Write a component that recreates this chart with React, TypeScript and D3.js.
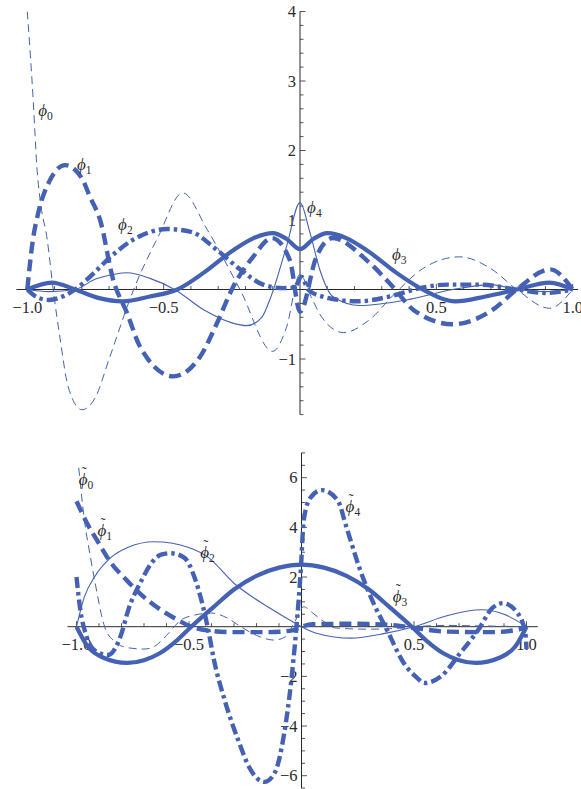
import * as d3 from "d3";

const WIDTH = 581;
const HEIGHT = 789;
const BLUE = "#4461b3";
const INK = "#2a2a2a";
const FONT = "Liberation Serif, Times New Roman, serif";

type Pt = [number, number];

// ---- top panel: phi_0 .. phi_4 ----
const topPhi0: Pt[] = [
  [-1, 4.0], [-0.978, 2.7], [-0.965, 1.77], [-0.953, 1.29], [-0.927, 0.72], [-0.905, 0],
  [-0.88, -0.7], [-0.85, -1.4], [-0.8, -1.73], [-0.75, -1.55], [-0.7, -1.0], [-0.61, 0],
  [-0.52, 0.76], [-0.43, 1.39], [-0.34, 0.86], [-0.22, 0], [-0.1, -0.89], [-0.05, -0.55],
  [0, 0.22], [0.04, -0.1], [0.08, -0.4], [0.16, -0.62], [0.25, -0.45], [0.35, -0.05],
  [0.45, 0.3], [0.585, 0.47], [0.7, 0.3], [0.795, 0], [0.915, -0.27], [1, 0],
];
const topPhi1: Pt[] = [
  [-1, 0], [-0.98, 0.7], [-0.96, 1.1], [-0.92, 1.55], [-0.861, 1.79], [-0.8, 1.6],
  [-0.77, 1.33], [-0.733, 1.0], [-0.685, 0.14], [-0.634, -0.34], [-0.587, -0.82],
  [-0.465, -1.25], [-0.367, -0.97], [-0.305, -0.49], [-0.245, 0.04], [-0.172, 0.47],
  [-0.103, 0.74], [-0.037, 0.42], [0, -0.32], [0.06, 0.47], [0.12, 0.74], [0.245, 0.42],
  [0.34, 0.04], [0.415, -0.29], [0.56, -0.5], [0.707, -0.29], [0.795, 0], [0.917, 0.29], [1, 0],
];
const topPhi2: Pt[] = [
  [-1, 0], [-0.96, -0.12], [-0.92, -0.15], [-0.87, -0.1], [-0.825, 0], [-0.76, 0.22],
  [-0.7, 0.45], [-0.61, 0.72], [-0.487, 0.87], [-0.4, 0.83], [-0.305, 0.57], [-0.22, 0.29],
  [-0.135, 0.07], [-0.062, 0.02], [-0.02, 0.03], [0.005, 0.18], [0.03, 0.0], [0.08, -0.1],
  [0.21, -0.17], [0.33, -0.1], [0.44, 0.02], [0.54, 0.07], [0.66, 0.07], [0.795, 0],
  [0.9, -0.05], [1, 0],
];
const topPhi3: Pt[] = [
  [-1, 0], [-0.91, 0.1], [-0.825, 0], [-0.74, -0.12], [-0.65, -0.17], [-0.55, -0.1],
  [-0.45, 0], [-0.35, 0.25], [-0.25, 0.55], [-0.17, 0.74], [-0.1, 0.81], [-0.05, 0.73],
  [0, 0.58], [0.05, 0.73], [0.1, 0.81], [0.17, 0.74], [0.25, 0.55], [0.35, 0.25], [0.45, 0],
  [0.57, -0.17], [0.68, -0.1], [0.795, 0], [0.915, 0.1], [1, 0],
];
const topPhi4: Pt[] = [
  [-1, 0], [-0.92, -0.03], [-0.825, 0], [-0.75, 0.15], [-0.68, 0.22], [-0.635, 0.24],
  [-0.55, 0.16], [-0.46, 0], [-0.35, -0.3], [-0.25, -0.48], [-0.195, -0.52], [-0.14, -0.4],
  [-0.11, -0.14], [-0.05, 0.61], [0, 1.25], [0.037, 0.81], [0.073, 0.28], [0.12, -0.1],
  [0.22, -0.23], [0.39, -0.15], [0.56, 0], [0.7, 0.07], [0.795, 0], [0.9, -0.03], [1, 0],
];

// ---- bottom panel: dual functions ----
const botPhi0: Pt[] = [
  [-0.99, 6.4], [-0.965, 4.3], [-0.94, 2.9], [-0.92, 1.9], [-0.875, 0], [-0.83, -0.6],
  [-0.77, -0.85], [-0.7, -0.9], [-0.655, -0.8], [-0.6, -0.35], [-0.535, 0.27], [-0.475, 0.47],
  [-0.4, 0.55], [-0.33, 0.35], [-0.27, 0], [-0.2, -0.35], [-0.12, -0.54], [-0.07, -0.4],
  [-0.03, 0.2], [0.01, 0.8], [0.05, 0.55], [0.1, 0.2], [0.15, -0.05], [0.3, -0.1],
  [0.45, -0.05], [0.5, 0], [0.65, 0.05], [0.8, 0.03], [1, 0],
];
const botPhi1: Pt[] = [
  [-1, 5.05], [-0.955, 4.2], [-0.9, 3.35], [-0.845, 2.55], [-0.78, 1.9], [-0.726, 1.4],
  [-0.624, 0.67], [-0.55, 0.27], [-0.49, 0], [-0.42, -0.15], [-0.3, -0.22], [-0.15, -0.22],
  [-0.04, -0.15], [0, 0], [0.05, 0.1], [0.25, 0.12], [0.42, 0.05], [0.5, -0.05],
  [0.65, -0.2], [0.85, -0.22], [0.97, -0.1], [1, 0],
];
const botDashDot: Pt[] = [
  [-1, 2.0], [-0.985, 0.8], [-0.955, -0.4], [-0.92, -0.95], [-0.86, -1.14], [-0.8, -0.27],
  [-0.77, 0.67], [-0.71, 1.88], [-0.667, 2.56], [-0.624, 2.9], [-0.58, 2.96], [-0.52, 2.77],
  [-0.476, 2.0], [-0.445, 1.07], [-0.415, -0.1], [-0.39, -1.3], [-0.34, -3.0], [-0.28, -4.6],
  [-0.23, -5.7], [-0.165, -6.25], [-0.12, -5.9], [-0.077, -4.3], [-0.047, -2.3],
  [-0.025, -0.27], [-0.003, 2.3], [0.01, 4.3], [0.04, 5.2], [0.09, 5.5], [0.16, 5.1],
  [0.2, 4.0], [0.26, 2.3], [0.32, 0.95], [0.38, -0.13], [0.455, -1.47], [0.515, -2.07],
  [0.545, -2.27], [0.62, -2.0], [0.705, -1.07], [0.795, 0], [0.84, 0.67], [0.895, 0.95],
  [0.96, 0.55], [0.995, -0.27], [1.0, -0.9],
];
const botPhi3: Pt[] = [
  [-1, 0], [-0.95, -0.8], [-0.88, -1.25], [-0.775, -1.46], [-0.7, -1.35], [-0.63, -1.07],
  [-0.56, -0.6], [-0.49, 0], [-0.39, 0.8], [-0.3, 1.5], [-0.2, 2.05], [-0.1, 2.38], [0, 2.5],
  [0.1, 2.38], [0.2, 2.05], [0.3, 1.5], [0.39, 0.8], [0.49, 0], [0.56, -0.6], [0.63, -1.07],
  [0.7, -1.35], [0.775, -1.46], [0.88, -1.25], [0.95, -0.8], [1, 0],
];
const botThin: Pt[] = [
  [-1, 0], [-0.965, 1.2], [-0.92, 2.0], [-0.845, 2.8], [-0.77, 3.2], [-0.655, 3.42],
  [-0.505, 3.2], [-0.416, 2.8], [-0.3, 1.75], [-0.15, 0.8], [-0.03, 0.15], [0, 0],
  [0.07, -0.27], [0.22, -0.46], [0.37, -0.27], [0.5, 0], [0.65, 0.45], [0.8, 0.68],
  [0.9, 0.5], [1, 0],
];

// tick labels
const xTickValues = [-1, -0.5, 0.5, 1];
const xTickLabels = ["\u22121.0", "\u22120.5", "0.5", "1.0"];
const topYTickValues = [-1, 1, 2, 3, 4];
const topYTickLabels = ["\u22121", "1", "2", "3", "4"];
const botYTickValues = [-6, -4, -2, 2, 4, 6];
const botYTickLabels = ["\u22126", "\u22124", "\u22122", "2", "4", "6"];

// curve labels: [x, y, subscript]
const topLabels: [number, number, string][] = [
  [-0.96, 2.5, "0"], [-0.818, 1.72, "1"], [-0.667, 0.86, "2"], [0.337, 0.42, "3"], [0.026, 1.1, "4"],
];
const botLabels: [number, number, string][] = [
  [-0.99, 5.7, "0"], [-0.907, 3.65, "1"], [-0.45, 2.77, "2"], [0.405, 1.0, "3"], [0.196, 4.6, "4"],
];

const STYLE = {
  thinDash: { w: 1, dash: "8 5" },
  thickDash: { w: 4.4, dash: "12 6" },
  dashDot: { w: 4.4, dash: "11 4 3.5 4" },
  thickSolid: { w: 4.2, dash: undefined },
  thinSolid: { w: 1.1, dash: undefined },
};

type Series = { pts: Pt[]; style: { w: number; dash?: string } };

function Panel({
  id, x, y, xExtent, yExtent, yStep, yMajor, yTicks, yLabels, series, labels, tilde,
}: {
  id: string;
  x: d3.ScaleLinear<number, number>;
  y: d3.ScaleLinear<number, number>;
  xExtent: [number, number];
  yExtent: [number, number];
  yStep: number;
  yMajor: (v: number) => boolean;
  yTicks: number[];
  yLabels: string[];
  series: Series[];
  labels: [number, number, string][];
  tilde: boolean;
}) {
  const x0 = x(0);
  const y0 = y(0);
  const line = d3
    .line<Pt>()
    .x((d) => x(d[0]))
    .y((d) => y(d[1]))
    .curve(d3.curveMonotoneX);

  const xMinor = d3.range(-10, 11).map((i) => i / 10).filter((v) => v !== 0);
  const nLo = Math.ceil(yExtent[0] / yStep - 1e-6);
  const nHi = Math.floor(yExtent[1] / yStep + 1e-6);
  const yMinor = d3.range(nLo, nHi + 1).map((i) => i * yStep).filter((v) => Math.abs(v) > 1e-9);

  return (
    <g style={{ fontFamily: FONT }}>
      <defs>
        <clipPath id={id}>
          <rect
            x={x(xExtent[0])}
            y={y(yExtent[1])}
            width={x(xExtent[1]) - x(xExtent[0])}
            height={y(yExtent[0]) - y(yExtent[1])}
          />
        </clipPath>
      </defs>
      {/* axes */}
      <line x1={x(xExtent[0])} x2={x(xExtent[1])} y1={y0} y2={y0} stroke={INK} strokeWidth={1} />
      <line x1={x0} x2={x0} y1={y(yExtent[0])} y2={y(yExtent[1])} stroke={INK} strokeWidth={1} />
      {xMinor.map((v) => {
        const major = Math.abs(v * 2 - Math.round(v * 2)) < 1e-6;
        return (
          <line key={"xt" + v} x1={x(v)} x2={x(v)} y1={y0} y2={y0 - (major ? 5.5 : 3.5)} stroke={INK} strokeWidth={0.8} />
        );
      })}
      {yMinor.map((v) => (
        <line key={"yt" + v} x1={x0} x2={x0 + (yMajor(v) ? 5.5 : 3.5)} y1={y(v)} y2={y(v)} stroke={INK} strokeWidth={0.8} />
      ))}
      {xTickValues.map((v, i) => (
        <text key={"xl" + v} x={x(v)} y={y0 + 23} textAnchor="middle" fontSize={16.5} fill={INK}>
          {xTickLabels[i]}
        </text>
      ))}
      {yTicks.map((v, i) => (
        <text key={"yl" + v} x={x0 - 4} y={y(v)} dy="0.35em" textAnchor="end" fontSize={16.5} fill={INK}>
          {yLabels[i]}
        </text>
      ))}
      {/* curves */}
      <g clipPath={`url(#${id})`}>
        {series.map((s, i) => (
          <path
            key={i}
            d={line(s.pts) ?? ""}
            fill="none"
            stroke={BLUE}
            strokeWidth={s.style.w}
            strokeDasharray={s.style.dash}
            strokeLinejoin="round"
          />
        ))}
      </g>
      {/* labels */}
      {labels.map(([lx, ly, sub]) => (
        <g key={"lab" + sub}>
          <text x={x(lx)} y={y(ly)} fontSize={17} fill={INK}>
            <tspan fontStyle="italic">{"\u03d5"}</tspan>
            <tspan fontSize={11.5} dy={4}>{sub}</tspan>
          </text>
          {tilde && (
            <text x={x(lx) + 3} y={y(ly) - 8} fontSize={15} fill={INK}>
              {"\u02dc"}
            </text>
          )}
        </g>
      ))}
    </g>
  );
}

export default function App() {
  const xTop = d3.scaleLinear().domain([-1, 1]).range([27.3, 572.7]);
  const yTop = d3.scaleLinear().domain([0, 4]).range([289.5, 11.5]);
  const xBot = d3.scaleLinear().domain([-1, 1]).range([76.5, 526.5]);
  const yBot = d3.scaleLinear().domain([0, 6]).range([626.7, 477.7]);

  const topSeries: Series[] = [
    { pts: topPhi0, style: STYLE.thinDash },
    { pts: topPhi4, style: STYLE.thinSolid },
    { pts: topPhi2, style: STYLE.dashDot },
    { pts: topPhi3, style: STYLE.thickSolid },
    { pts: topPhi1, style: STYLE.thickDash },
  ];
  const botSeries: Series[] = [
    { pts: botPhi0, style: STYLE.thinDash },
    { pts: botThin, style: STYLE.thinSolid },
    { pts: botPhi3, style: STYLE.thickSolid },
    { pts: botPhi1, style: STYLE.thickDash },
    { pts: botDashDot, style: STYLE.dashDot },
  ];

  return (
    <svg
      width={WIDTH}
      height={HEIGHT}
      viewBox={`0 0 ${WIDTH} ${HEIGHT}`}
      style={{ position: "absolute", left: 0, top: 0, background: "#fff" }}
    >
      <Panel
        id="clipTop"
        x={xTop}
        y={yTop}
        xExtent={[-1.04, 1.02]}
        yExtent={[-1.8, 4.0]}
        yStep={0.2}
        yMajor={(v) => Math.abs(v - Math.round(v)) < 1e-6}
        yTicks={topYTickValues}
        yLabels={topYTickLabels}
        series={topSeries}
        labels={topLabels}
        tilde={false}
      />
      <Panel
        id="clipBot"
        x={xBot}
        y={yBot}
        xExtent={[-1.04, 1.05]}
        yExtent={[-6.5, 7.0]}
        yStep={0.5}
        yMajor={(v) => Math.abs(v / 2 - Math.round(v / 2)) < 1e-6}
        yTicks={botYTickValues}
        yLabels={botYTickLabels}
        series={botSeries}
        labels={botLabels}
        tilde={true}
      />
    </svg>
  );
}
